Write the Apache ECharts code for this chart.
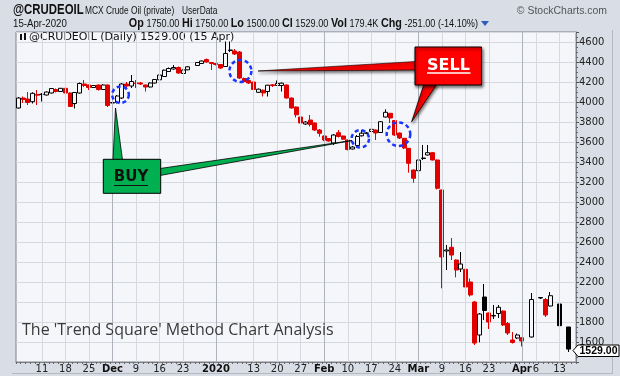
<!DOCTYPE html>
<html>
<head>
<meta charset="utf-8">
<script src="https://cdn.jsdelivr.net/npm/echarts@6/dist/echarts.min.js"></script>
<style>
  html, body { margin: 0; padding: 0; background: #d9dde6; }
  #chart { width: 620px; height: 376px; }
</style>
</head>
<body>
<div id="chart"></div>
<script>
// daily slots, Mon-Fri from 4 Nov 2019 (one empty slot at the end), null = no session
const startDay = '2019-11-04'
const slotCount = 119

const opens = [
  3940, 4040, 4030, 4003, 4075, 4075, 4070, 4090, 4125, 4105,
  4137, 4090, 3985, 4090, 4180, 4170, 4145, 4170, 4125, 4170,
  3990, 3995, 4040, 4180, 4160, 4190, 4190, 4170, 4150, 4190,
  4222, 4255, 4305, 4330, 4345, 4285, 4322, null, 4365, 4385,
  4425, 4395, 4385, 4375, 4355, 4515, 4510, 4500, 4235, 4215,
  4200, 4097, 4118, 4105, 4172, 4165, 4165, 4170, 4040, 3950,
  3850, 3780, 3820, 3790, 3720, 3660, 3635, 3590, 3693, 3660,
  3620, 3530, 3565, 3662, 3688, 3705, 3720, 3695, 3850, 3887,
  3815, 3690, 3637, 3537, 3320, 3313, 3435, 3470, 3493, 3420,
  3120, 2510, 2547, 2420, 2330, 2327, 2200, 2000, 1670, 2050,
  1890, 1860, 1885, 1910, 1785, 1620, 1640, 1643, null, 1650,
  null, 2040, 2025, 1960, null, 1980, null, 1750
]
const closes = [
  4040, 4025, 3995, 4087, 4068, 4078, 4100, 4135, 4105, 4137,
  4090, 3955, 4095, 4185, 4165, 4145, 4165, 4125, 4170, 3965,
  3995, 4060, 4180, 4160, 4205, 4185, 4180, 4150, 4190, 4225,
  4270, 4318, 4335, 4345, 4290, 4320, 4352, null, 4395, 4410,
  4400, 4385, 4375, 4340, 4485, 4520, 4480, 4240, 4205, 4190,
  4125, 4128, 4090, 4168, 4165, 4185, 4188, 4040, 3940, 3872,
  3790, 3800, 3775, 3720, 3687, 3620, 3610, 3670, 3655, 3628,
  3525, 3550, 3655, 3688, 3690, 3727, 3690, 3803, 3897, 3840,
  3670, 3640, 3540, 3387, 3237, 3420, 3440, 3493, 3420, 3137,
  2450, 2520, 2470, 2320, 2380, 2150, 2070, 1590, 1880, 1915,
  1800, 1865, 1947, 1770, 1690, 1595, 1670, 1610, null, 2025,
  null, 2045, 1870, 2063, null, 1763, null, 1529
]
const lows = [
  3935, 3990, 3970, 3985, 3970, 4005, 4065, 4085, 4095, 4100,
  4080, 3950, 3935, 4085, 4150, 4120, 4140, 4115, 4120, 3950,
  3960, 3985, 4030, 4140, 4140, 4140, 4170, 4105, 4145, 4185,
  4215, 4250, 4300, 4325, 4280, 4280, 4318, null, 4360, 4380,
  4395, 4320, 4365, 4330, 4350, 4500, 4470, 4230, 4195, 4180,
  4115, 4090, 4055, 4055, 4150, 4160, 4105, 4035, 3935, 3845,
  3780, 3770, 3755, 3710, 3653, 3610, 3605, 3570, 3645, 3620,
  3515, 3525, 3550, 3655, 3680, 3700, 3620, 3690, 3845, 3790,
  3660, 3630, 3530, 3293, 3193, 3270, 3420, 3465, 3415, 3125,
  2137, 2320, 2420, 2247, 2300, 2140, 2055, 1570, 1597, 1820,
  1730, 1830, 1840, 1760, 1670, 1585, 1630, 1555, null, 1645,
  null, 2030, 1850, 1955, null, 1720, null, 1500
]
const highs = [
  4050, 4055, 4100, 4097, 4120, 4090, 4105, 4140, 4135, 4140,
  4142, 4095, 4100, 4195, 4220, 4175, 4170, 4175, 4178, 4175,
  4005, 4070, 4190, 4200, 4270, 4220, 4200, 4175, 4195, 4230,
  4275, 4325, 4345, 4370, 4355, 4325, 4360, null, 4400, 4415,
  4435, 4400, 4390, 4380, 4605, 4605, 4530, 4510, 4245, 4225,
  4205, 4135, 4125, 4172, 4180, 4215, 4195, 4175, 4045, 3955,
  3855, 3810, 3870, 3795, 3730, 3665, 3640, 3680, 3720, 3665,
  3625, 3560, 3670, 3720, 3700, 3735, 3725, 3810, 3927, 3890,
  3820, 3695, 3640, 3540, 3325, 3425, 3570, 3570, 3500, 3425,
  3125, 2570, 2640, 2425, 2500, 2330, 2235, 2010, 1890, 2180,
  1895, 1970, 1970, 1915, 1800, 1700, 1685, 1648, null, 2090,
  null, 2050, 2040, 2100, null, 1985, null, 1750
]

const tickDates = [
  '2019-11-11', '2019-11-18', '2019-11-25', '2019-12-02', '2019-12-09', '2019-12-16', '2019-12-23',
  '2020-01-01', '2020-01-13', '2020-01-20', '2020-01-27', '2020-02-03', '2020-02-10', '2020-02-17',
  '2020-02-24', '2020-03-02', '2020-03-09', '2020-03-16', '2020-03-23', '2020-04-01', '2020-04-06',
  '2020-04-13'
]
const tickTexts = ['11', '18', '25', 'Dec', '9', '16', '23', '2020', '13', '20', '27', 'Feb', '10', '17', '24', 'Mar', '9', '16', '23', 'Apr', '6', '13']
const monthTexts = ['Dec', '2020', 'Feb', 'Mar', 'Apr']

// colours
const RED = '#e00000'
const BLACK = '#000000'
const PLOT_BG = '#f5f6fa'
const GRID = '#d6d9e0'
const GRID_DARK = '#aeb2ba'

const pad = (n) => (n < 10 ? '0' + n : '' + n)

const genDays = () => {
  const out = []
  const d = new Date(startDay + 'T00:00:00Z')
  while (out.length < slotCount) {
    const wd = d.getUTCDay()
    if (wd !== 0 && wd !== 6) {
      out.push(d.getUTCFullYear() + '-' + pad(d.getUTCMonth() + 1) + '-' + pad(d.getUTCDate()))
    }
    d.setUTCDate(d.getUTCDate() + 1)
  }
  return out
}

const days = genDays()

// StockCharts style: hollow when close > open, red when close < previous close
const genCandles = () =>
  days.map((day, i) => {
    if (i >= opens.length || opens[i] == null) return '-'
    const prev = i > 0 ? closes[i - 1] : null
    const tone = prev != null && closes[i] < prev ? RED : BLACK
    const fill = closes[i] > opens[i] ? PLOT_BG : tone
    return {
      value: [opens[i], closes[i], lows[i], highs[i]],
      itemStyle: {
        color: fill,
        color0: fill,
        borderColor: tone,
        borderColor0: tone,
        borderColorDoji: tone,
      },
    }
  })

const gridLines = tickDates.map((d, i) => ({
  xAxis: d,
  lineStyle: { color: monthTexts.includes(tickTexts[i]) ? GRID_DARK : GRID, width: 1, type: 'solid' },
}))

const FONT = 'DejaVu Sans'
const SANS = '"Liberation Sans"'

const chart = echarts.init(document.getElementById('chart'), null, { renderer: 'canvas' })

chart.setOption({
  animation: false,
  backgroundColor: '#d9dde6',
  grid: {
    left: 16,
    right: 44,
    top: 32,
    bottom: 14,
    show: true,
    backgroundColor: PLOT_BG,
    borderColor: '#7c8089',
    borderWidth: 1,
  },
  xAxis: {
    type: 'category',
    data: days,
    boundaryGap: true,
    axisLine: { show: true, lineStyle: { color: '#7c8089' } },
    axisTick: { show: true, interval: 0, length: 2, lineStyle: { color: '#666' } },
    splitLine: { show: false },
    axisLabel: {
      interval: (idx, val) => tickDates.includes(val),
      formatter: (val) => {
        const t = tickTexts[tickDates.indexOf(val)]
        return monthTexts.includes(t) ? '{b|' + t + '}' : t
      },
      color: '#222',
      fontSize: 10,
      fontFamily: FONT,
      margin: 2,
      rich: { b: { fontWeight: 'bold', fontSize: 10, fontFamily: FONT, color: '#111' } },
    },
  },
  yAxis: {
    type: 'value',
    position: 'right',
    min: 1400,
    max: 4700,
    interval: 200,
    axisLine: { show: true, lineStyle: { color: '#7c8089' } },
    axisTick: { show: true, length: 3, lineStyle: { color: '#555' } },
    minorTick: { show: true, splitNumber: 4, length: 2, lineStyle: { color: '#666' } },
    splitLine: { show: true, lineStyle: { color: GRID } },
    axisLabel: {
      color: '#222',
      fontSize: 10,
      fontFamily: FONT,
      margin: 3,
      formatter: (v) => (v < 1600 || v > 4600 ? '' : String(v)),
    },
  },
  series: [
    {
      type: 'line',
      z: 1,
      silent: true,
      data: [],
      markLine: {
        silent: true,
        symbol: 'none',
        label: { show: false },
        animation: false,
        data: gridLines,
      },
    },
    {
      type: 'candlestick',
      z: 3,
      silent: true,
      barWidth: 4.5,
      itemStyle: { borderWidth: 1 },
      data: genCandles(),
    },
  ],
})

// annotations drawn on top of the chart (callouts, circles, titles)
const dash = { stroke: '#1a35ff', lineWidth: 2.5, lineDash: [4, 3], fill: null }
const calloutShadow = { shadowBlur: 3, shadowColor: 'rgba(0,0,0,0.55)', shadowOffsetX: 1, shadowOffsetY: 2 }

// narrow header text: squeeze a normal face horizontally
const narrowText = (x, y, text, font, sx, extra = {}) => ({
  type: 'text',
  x,
  y,
  scaleX: sx,
  style: { x: 0, y: 0, text, font, fill: '#111', verticalAlign: 'top', ...extra },
})

chart.setOption({
  graphic: [
    // panel edges
    { type: 'line', shape: { x1: 612.5, y1: 30, x2: 612.5, y2: 373 }, style: { stroke: '#b4b8c1', lineWidth: 1 } },
    { type: 'line', shape: { x1: 12, y1: 373.5, x2: 613, y2: 373.5 }, style: { stroke: '#b4b8c1', lineWidth: 1 } },

    // header
    narrowText(13, 2, '@CRUDEOIL', 'bold 15px ' + SANS, 0.76),
    narrowText(85, 5, 'MCX Crude Oil (private)', '11px ' + SANS, 0.76),
    narrowText(182, 5, 'UserData', '11px ' + SANS, 0.76),
    narrowText(607, 5, '© StockCharts.com', '11px ' + SANS, 0.95, { align: 'right', fill: '#555' }),
    narrowText(13, 18, '15-Apr-2020', '11px ' + SANS, 0.88),
    narrowText(478, 17, '{b|Op} 1750.00 {b|Hi} 1750.00 {b|Lo} 1500.00 {b|Cl} 1529.00 {b|Vol} 179.4K {b|Chg} -251.00 (-14.10%)', '11px ' + SANS, 0.83, {
      align: 'right',
      rich: { b: { font: 'bold 13px ' + SANS, fill: '#111' } },
    }),
    { type: 'polygon', shape: { points: [[481, 21], [489, 21], [485, 26]] }, style: { fill: '#2c5fb8' } },

    // legend line inside plot
    { type: 'rect', shape: { x: 20, y: 34, width: 2, height: 6 }, style: { fill: '#111' } },
    { type: 'rect', shape: { x: 24, y: 33, width: 2, height: 7 }, style: { fill: '#111' } },
    { type: 'text', left: 29, top: 32, style: { text: '@CRUDEOIL (Daily) 1529.00 (15 Apr)', font: '11px ' + FONT, fill: '#111' } },

    // blue dashed circles
    { type: 'circle', z: 20, shape: { cx: 120.5, cy: 94.7, r: 8.3 }, style: dash },
    { type: 'circle', z: 20, shape: { cx: 240.4, cy: 71, r: 11 }, style: dash },
    { type: 'circle', z: 20, shape: { cx: 360.3, cy: 138.8, r: 8.7 }, style: dash },
    { type: 'circle', z: 20, shape: { cx: 398.5, cy: 134.2, r: 11.8 }, style: dash },

    // SELL callout
    { type: 'polygon', z: 21, shape: { points: [[258, 71], [416, 61.5], [416, 70]] }, style: { fill: '#ff0000', stroke: '#000', lineWidth: 0.6, ...calloutShadow } },
    { type: 'polygon', z: 21, shape: { points: [[424, 84], [437, 84], [411.7, 121.7]] }, style: { fill: '#ff0000', stroke: '#000', lineWidth: 0.8, ...calloutShadow } },
    { type: 'rect', z: 22, shape: { x: 415, y: 47, width: 66.5, height: 38 }, style: { fill: '#ff0000', stroke: '#000', lineWidth: 1, ...calloutShadow } },
    { type: 'text', z: 23, style: { x: 448.5, y: 65.5, text: 'SELL', align: 'center', verticalAlign: 'middle', font: 'bold 16px ' + FONT, fill: '#fff' } },
    { type: 'line', z: 23, shape: { x1: 427, y1: 73, x2: 470.5, y2: 73 }, style: { stroke: '#fff', lineWidth: 1.5 } },

    // BUY callout
    { type: 'polygon', z: 21, shape: { points: [[113, 160], [122.5, 160], [115.5, 108]] }, style: { fill: '#00b050', stroke: '#000', lineWidth: 0.8 } },
    { type: 'polygon', z: 21, shape: { points: [[160, 168.5], [160, 175.5], [352, 140.5]] }, style: { fill: '#00b050', stroke: '#000', lineWidth: 0.8 } },
    { type: 'rect', z: 22, shape: { x: 103.3, y: 159.3, width: 57.4, height: 34 }, style: { fill: '#00b050', stroke: '#000', lineWidth: 1 } },
    { type: 'text', z: 23, style: { x: 131, y: 177, text: 'BUY', align: 'center', verticalAlign: 'middle', font: 'bold 15px ' + FONT, fill: '#111' } },
    { type: 'line', z: 23, shape: { x1: 114, y1: 185.5, x2: 148, y2: 185.5 }, style: { stroke: '#111', lineWidth: 1.2 } },

    // caption
    { type: 'text', z: 20, left: 22, top: 322, style: { text: "The 'Trend Square' Method Chart Analysis", font: '16px "Open Sans"', fill: '#3a3a3a' } },

    // last price tag
    {
      type: 'polygon',
      z: 25,
      shape: { points: [[573, 350.5], [578, 345], [619, 345], [619, 356.5], [578, 356.5]] },
      style: { fill: '#fff', stroke: '#000', lineWidth: 1 },
    },
    { type: 'text', z: 26, style: { x: 598.5, y: 351, text: '1529.00', align: 'center', verticalAlign: 'middle', font: 'bold 10.5px ' + SANS, fill: '#000' } },
  ],
})
</script>
</body>
</html>
